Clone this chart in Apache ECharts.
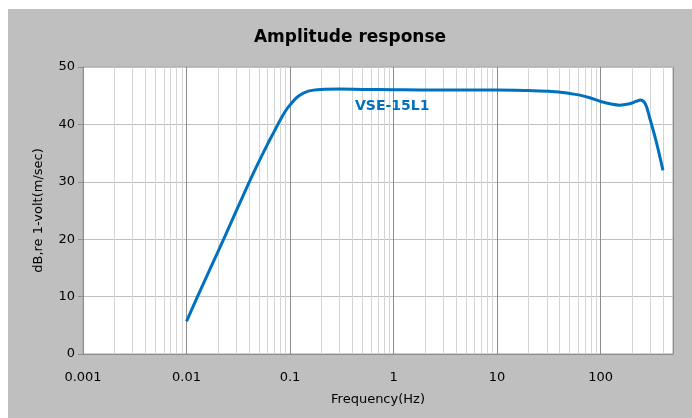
<!DOCTYPE html>
<html><head><meta charset="utf-8">
<script src="https://cdn.jsdelivr.net/npm/echarts@6/dist/echarts.min.js"></script>
<style>
html,body{margin:0;padding:0;background:#fff;}
#wrap{position:relative;width:692px;height:418px;background:#fff;}
#chart{position:absolute;left:8px;top:9px;width:684px;height:409px;background:#bfbfbf;}
</style></head>
<body><div id="wrap"><div id="chart"></div></div>
<script>
// Frequency (Hz) and amplitude (dB re 1 V/(m/s))
var freq = [0.01, 0.015, 0.02, 0.03, 0.04, 0.05, 0.06, 0.07, 0.08, 0.09, 0.1, 0.12, 0.15, 0.2, 0.3, 0.5, 1, 2, 5, 10, 20, 34, 50, 63, 80, 100, 130, 152, 190, 220, 242, 270, 297, 342, 400];
var amp  = [5.7, 12.8, 17.7, 24.8, 29.8, 33.5, 36.4, 38.7, 40.7, 42.3, 43.4, 44.9, 45.8, 46.1, 46.15, 46.1, 46.05, 46.0, 46.0, 46.0, 45.9, 45.75, 45.4, 45.1, 44.6, 44.0, 43.5, 43.35, 43.6, 44.0, 44.25, 43.6, 41.2, 37.2, 32.0];
var xTicks = [0.001, 0.01, 0.1, 1, 10, 100];
var minorTicks = [0.002,0.003,0.004,0.005,0.006,0.007,0.008,0.009,
  0.02,0.03,0.04,0.05,0.06,0.07,0.08,0.09,
  0.2,0.3,0.4,0.5,0.6,0.7,0.8,0.9,
  2,3,4,5,6,7,8,9,
  20,30,40,50,60,70,80,90,
  200,300,400];
var yTicks = [0, 10, 20, 30, 40, 50];
var seriesName = 'VSE-15L1';

var FONT = 'DejaVu Sans';
var chart = echarts.init(document.getElementById('chart'));
chart.setOption({
  backgroundColor: 'transparent',
  animation: false,
  textStyle: {fontFamily: FONT},
  title: {
    text: 'Amplitude response', left: 'center', top: 15,
    textStyle: {fontSize: 17, fontWeight: 'bold', color: '#000', fontFamily: FONT}
  },
  grid: {left: 75, right: 19, top: 58, bottom: 64, show: true,
    backgroundColor: '#fff', borderColor: '#a6a6a6', borderWidth: 1},
  xAxis: {
    type: 'log', logBase: 10, min: xTicks[0], max: 500,
    name: 'Frequency(Hz)', nameLocation: 'middle', nameGap: 39,
    nameTextStyle: {fontSize: 13, color: '#000', fontFamily: FONT},
    axisLine: {lineStyle: {color: '#8c8c8c'}},
    axisTick: {show: false},
    axisLabel: {fontSize: 13, color: '#000', margin: 17, showMaxLabel: false},
    splitLine: {show: true, lineStyle: {color: '#8c8c8c', width: 1}}
  },
  yAxis: {
    type: 'value', min: yTicks[0], max: yTicks[yTicks.length - 1], interval: 10,
    name: 'dB,re 1-volt(m/sec)', nameLocation: 'middle', nameGap: 38,
    nameTextStyle: {fontSize: 13, color: '#000', fontFamily: FONT},
    axisLine: {show: true, lineStyle: {color: '#8c8c8c'}},
    axisTick: {show: true, length: 5, lineStyle: {color: '#8c8c8c'}},
    axisLabel: {fontSize: 13, color: '#000', margin: 8},
    splitLine: {show: true, lineStyle: {color: '#bfbfbf', width: 1}}
  },
  graphic: [{
    type: 'text', left: 347, top: 90, silent: true, z: 100,
    style: {text: seriesName, fill: '#0070c0', font: 'bold 14px "DejaVu Sans"'}
  }],
  series: [{
    type: 'custom', name: 'minor', silent: true, z: 1,
    data: minorTicks.map(function (t) { return [t, yTicks[0]]; }),
    encode: {x: 0, y: 1},
    renderItem: function (params, api) {
      var t = api.value(0);
      var p0 = api.coord([t, yTicks[0]]);
      var p1 = api.coord([t, yTicks[yTicks.length - 1]]);
      var x = Math.round(p0[0]) + 0.5;
      return {type: 'line', shape: {x1: x, y1: p0[1], x2: x, y2: p1[1]},
        style: {stroke: '#d4d4d4', lineWidth: 1}};
    }
  }, {
    type: 'line', name: seriesName, z: 5,
    data: freq.map(function (f, i) { return [f, amp[i]]; }),
    smooth: 0.35, showSymbol: false,
    lineStyle: {color: '#0070c0', width: 3}
  }]
});
</script></body></html>
